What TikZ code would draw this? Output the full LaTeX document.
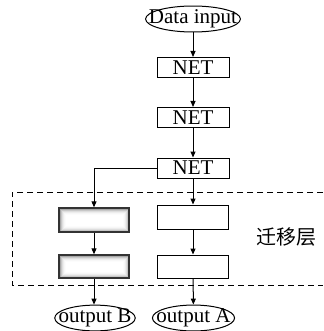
\documentclass[tikz,border=0pt]{standalone}
\usepackage{fontspec}
\setmainfont{Liberation Serif}
\newfontfamily\cjk{Noto Sans CJK SC}
\usepackage{tikz}
\usetikzlibrary{calc,arrows.meta,shapes.geometric}
\definecolor{ink}{HTML}{000000}
\definecolor{edge}{HTML}{333333}
\tikzset{
  flow/.style={draw=ink, line width=1pt, -{Triangle[length=6pt,width=5pt]}},
  netbox/.style={draw=ink, line width=1pt, fill=white, minimum width=72pt, minimum height=20pt, inner sep=0pt},
  plainbox/.style={draw=ink, line width=1pt, fill=white, minimum width=71pt, inner sep=0pt},
  glowbox/.style={draw=edge, line width=1.4pt, fill=white, minimum width=70pt, inner sep=0pt,
    path picture={\foreach \i/\c in {1/34,2/22,3/13,4/7,5/3,6/1}
      {\draw[draw=black!\c, line width=1pt]
        ([shift={(\i pt,-\i pt)}]path picture bounding box.north west) rectangle
        ([shift={(-\i pt,\i pt)}]path picture bounding box.south east);}}},
  io/.style={ellipse, draw=ink, line width=1pt, inner xsep=-8pt, inner ysep=0pt, minimum height=24pt},
  frame/.style={draw=ink, line width=1pt, dash pattern=on 6pt off 4pt},
  lab/.style={font=\fontsize{21}{24}\selectfont},
}
\begin{document}
\begin{tikzpicture}[x=1pt, y=-1pt, lab]
  \useasboundingbox (0,0) rectangle (323,331);
  % main chain
  \node[io, inner xsep=-10.5pt, minimum height=22pt] (din) at (193,19) {Data input};
  \node[netbox] (net1) at (193,67.5) {NET};
  \node[netbox] (net2) at (193,117.5) {NET};
  \node[netbox] (net3) at (193,168) {NET};
  % transfer layer
  \node[plainbox, minimum height=24pt] (wa1) at (193,217) {};
  \node[plainbox, minimum height=23pt] (wa2) at (193,266.5) {};
  \node[glowbox, minimum height=24pt] (ga1) at (94,220) {};
  \node[glowbox, minimum height=23pt] (ga2) at (94,266.5) {};
  \node[io] (outb) at (95,318) {output B};
  \node[io] (outa) at (193.5,318) {output A};
  \node[font=\cjk\fontsize{20}{24}\selectfont] (tl) at (286,237) {迁移层};
  \draw[frame] (323,192) -- (12,192) -- (12,285) -- (323,285);
  % arrows
  \draw[flow] (din) -- (net1);
  \draw[flow] (net1) -- (net2);
  \draw[flow] (net2) -- (net3);
  \draw[flow] (net3) -- (wa1);
  \draw[flow] (wa1) -- (wa2);
  \draw[flow] (wa2) -- (outa);
  \draw[flow] (net3.west) -| (ga1.north);
  \draw[flow] (ga1) -- (ga2);
  \draw[flow] (ga2.south) -- (ga2.south |- outb.north);
\end{tikzpicture}
\end{document}
